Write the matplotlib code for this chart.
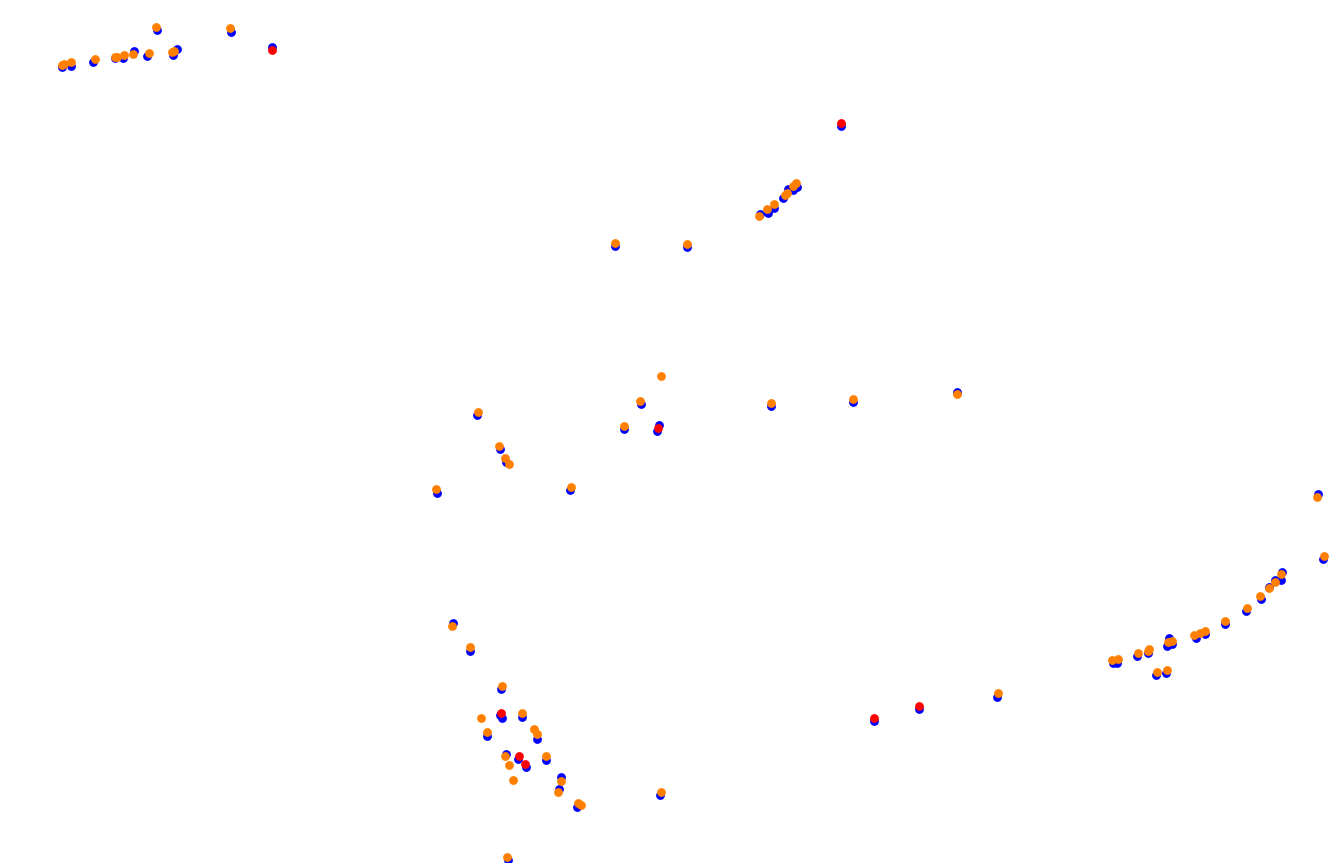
import matplotlib
matplotlib.use("Agg")
import matplotlib.pyplot as plt

# Data (in its own coordinate space)
blue_x = [61.7, 71, 93.3, 115, 123.3, 134.3, 147.3, 157.3, 172.7, 176.7, 231, 271.7,
          840.7, 760, 768.3, 774, 783.3, 788.3, 792.7, 797.3, 615, 687,
          476.7, 500, 506, 436.7, 570, 624, 640.7, 656.7, 659, 771, 853, 957,
          452.7, 470, 500.7, 500, 502, 522, 487, 536.7, 506, 517.7, 526, 545.7,
          560.7, 558.7, 576.7, 660, 507.7,
          1317.7, 1323.3, 1281.7, 1281, 1275, 1269, 1260.7, 1245.7, 1225, 1205,
          1196, 1169, 1167.3, 1171.7, 1147.7, 1136.7, 1116.7, 1112.7, 1156, 1166,
          874, 919, 997.3]
blue_y = [67.3, 65.7, 61.7, 58.3, 57.7, 51, 56, 30, 55, 49.3, 31.7, 47.3,
          126, 214, 213.3, 208.3, 198.3, 189.3, 190, 187.3, 246, 247,
          415, 449.3, 461.7, 493.3, 490, 429.3, 404, 431, 425, 406, 402, 392,
          623.3, 651, 689.3, 715, 718.3, 716.7, 736, 739, 754, 759, 766.7, 760,
          776.7, 789, 807.3, 795, 860,
          494.3, 559, 571.7, 580, 580, 586.7, 599, 611, 624.3, 634,
          638.3, 638.3, 646, 644.3, 652.7, 656, 662.7, 662.7, 675, 673.3,
          721, 708.7, 697]

red_x = [271.7, 840.7, 657.7, 500.7, 519, 525, 874, 919]
red_y = [50, 123.3, 427.7, 712.7, 755.7, 764, 718.3, 705.7]

orange_x = [61.7, 64, 71, 95, 115, 117.3, 124, 133.3, 149, 155.7, 172.3, 174.3, 230,
            759, 767.3, 774, 785, 787.3, 793.3, 796, 615, 687,
            477.7, 499, 505, 509, 436, 571, 624, 640, 660.7, 771, 853, 957,
            451.7, 470, 501.7, 481, 521.7, 486.7, 534, 536.7, 505, 545.7, 508.7,
            512.7, 561, 557.7, 577.7, 581, 660.7, 506.7,
            1316.7, 1324, 1280.7, 1275, 1269, 1260, 1246.7, 1225, 1205, 1200,
            1194.3, 1171.7, 1167.7, 1149.3, 1147.7, 1137.7, 1117.7, 1111.7, 1156.7,
            1166.7, 997.7]
orange_y = [65, 64.3, 62.3, 59, 56.7, 56.7, 55, 53.7, 52.7, 26.7, 51.7, 51, 27.7,
            215.7, 209.3, 204.3, 195, 192.7, 186, 183.3, 243, 244,
            411.7, 445.7, 457.7, 463.7, 489.3, 486.7, 425.7, 400.7, 375.7, 403, 399, 394,
            626, 646.7, 685.7, 717.7, 712.7, 731.7, 729.3, 734.3, 755.7, 755.7, 764.7,
            779.7, 781, 792, 803.3, 804.7, 791.7, 856.7,
            496.7, 555.7, 574.3, 582.3, 588.3, 595.7, 607.7, 620.7, 630.7, 632.7,
            635, 641, 642.3, 649.3, 650.7, 652.7, 659, 660, 671.7,
            670, 693.3]

fig = plt.figure(figsize=(13.37, 8.63), dpi=100)
ax = fig.add_axes([0, 0, 1, 1])
ax.scatter(blue_x, blue_y, s=40, color="#0000ff", linewidths=0, zorder=1)
ax.scatter(red_x, red_y, s=40, color="#ff0000", linewidths=0, zorder=2)
ax.scatter(orange_x, orange_y, s=40, color="#ff8000", linewidths=0, zorder=3)
ax.set_xlim(0, 1337)
ax.set_ylim(863, 0)
ax.axis("off")
fig.savefig("out.png", dpi=100, facecolor="white")
